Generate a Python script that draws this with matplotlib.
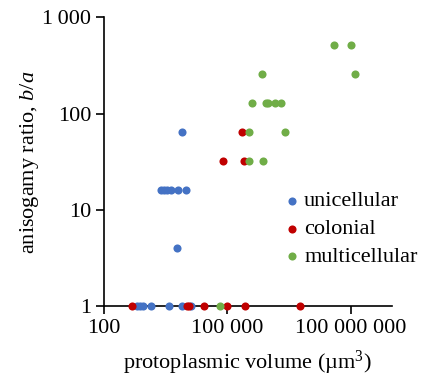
import matplotlib
matplotlib.use("Agg")
import matplotlib.pyplot as plt
import matplotlib.ticker as mticker

plt.rcParams['font.family'] = ['Liberation Serif', 'DejaVu Serif']
plt.rcParams['mathtext.fontset'] = 'custom'
plt.rcParams['mathtext.rm'] = 'Liberation Serif'
plt.rcParams['mathtext.it'] = 'Liberation Serif:italic'

# protoplasmic volume (um^3) and anisogamy ratio
uni_vol = [650, 760, 910, 1400, 3800, 7800, 13500, 5900,
           2450, 2900, 3450, 4350, 6450, 10000, 8100]
uni_ratio = [1, 1, 1, 1, 1, 1, 1, 4,
             16, 16, 16, 16, 16, 16, 64]

col_vol = [490, 10500, 11700, 27500, 98000, 275000, 5900000,
           79000, 250000, 224000]
col_ratio = [1, 1, 1, 1, 1, 1, 1,
             32, 32, 64]

multi_vol = [66000, 347000, 724000, 347000, 2570000,
             400000, 870000, 980000, 1480000, 2040000,
             708000, 126000000, 40000000, 100000000]
multi_ratio = [1, 32, 32, 64, 64,
               128, 128, 128, 128, 128,
               256, 256, 512, 512]

x_ticks = [1e2, 1e5, 1e8]
x_labels = ['100', '100 000', '100 000 000']
y_ticks = [1, 10, 100, 1000]
y_labels = ['1', '10', '100', '1\u2009000']

fig = plt.figure(figsize=(4.32, 3.78), dpi=100)
ax = fig.add_axes([0.24, 0.19, 0.667, 0.764])

ax.scatter(uni_vol, uni_ratio, s=34, color='#4472C4', label='unicellular',
           zorder=3, clip_on=False, linewidths=0)
ax.scatter(col_vol, col_ratio, s=34, color='#C00000', label='colonial',
           zorder=3, clip_on=False, linewidths=0)
ax.scatter(multi_vol, multi_ratio, s=34, color='#70AD47', label='multicellular',
           zorder=3, clip_on=False, linewidths=0)

ax.set_xscale('log')
ax.set_yscale('log')
ax.set_xlim(1e2, 1e9)
ax.set_ylim(1, 1000)
ax.xaxis.set_major_locator(mticker.FixedLocator(x_ticks))
ax.xaxis.set_major_formatter(mticker.FixedFormatter(x_labels))
ax.yaxis.set_major_locator(mticker.FixedLocator(y_ticks))
ax.yaxis.set_major_formatter(mticker.FixedFormatter(y_labels))
ax.xaxis.set_minor_locator(mticker.NullLocator())
ax.yaxis.set_minor_locator(mticker.NullLocator())

for side in ['top', 'right']:
    ax.spines[side].set_visible(False)
for side in ['left', 'bottom']:
    ax.spines[side].set_linewidth(1.2)
ax.tick_params(labelsize=16, width=1.2, length=6, pad=3)

ax.set_xlabel('protoplasmic volume (µm$^3$)', fontsize=16, labelpad=8)
ax.set_ylabel('anisogamy ratio, $b/a$', fontsize=16, labelpad=1)

ax.legend(loc='center left', bbox_to_anchor=(0.63, 0.267), frameon=False,
          fontsize=16, borderpad=0, borderaxespad=0, handlelength=0.6,
          handletextpad=0.25, labelspacing=0.33, scatterpoints=1)

fig.savefig('out.png', dpi=100)
